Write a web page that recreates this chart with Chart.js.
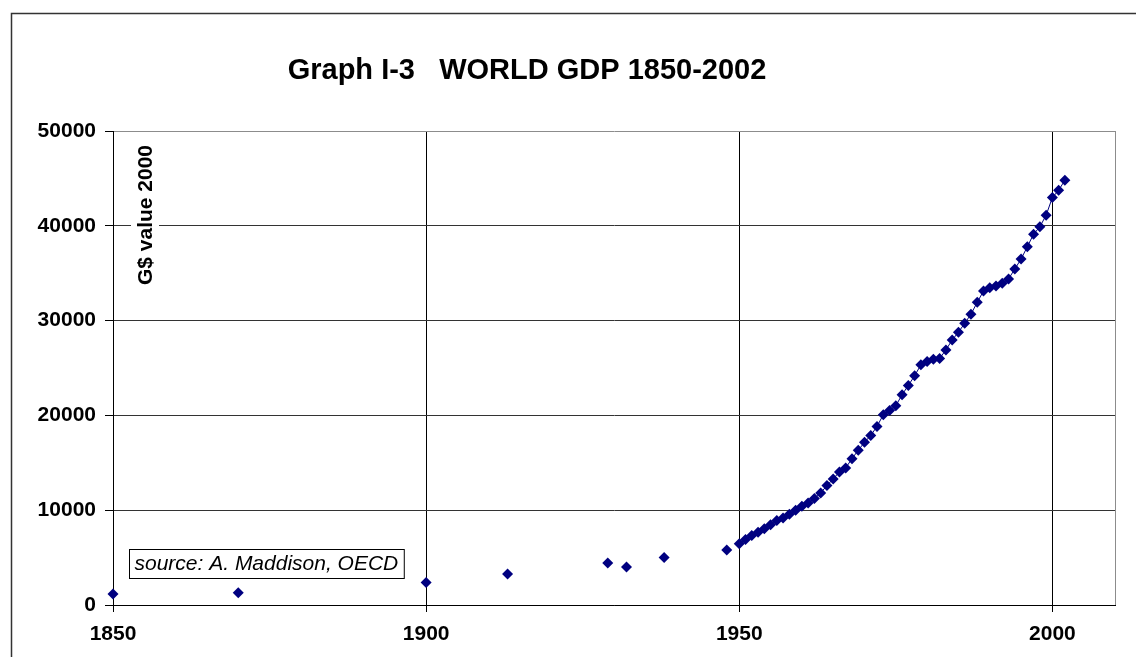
<!DOCTYPE html>
<html>
<head>
<meta charset="utf-8">
<script src="https://cdn.jsdelivr.net/npm/chart.js@4/dist/chart.umd.min.js"></script>
<style>
  html, body { margin: 0; padding: 0; background: #fff; }
  #wrap { width: 1136px; height: 657px; }
</style>
</head>
<body>
<div id="wrap"><canvas id="gdpChart" width="1136" height="657"></canvas></div>
<script>
// world GDP, G$ (value 2000)
const earlyYears = [1850, 1870, 1900, 1913, 1929, 1932, 1938, 1948];
const earlyGdp = [1150, 1300, 2380, 3280, 4440, 4020, 5000, 5790];

const years = [
  1950, 1951, 1952, 1953, 1954, 1955, 1956, 1957, 1958, 1959,
  1960, 1961, 1962, 1963, 1964, 1965, 1966, 1967, 1968, 1969,
  1970, 1971, 1972, 1973, 1974, 1975, 1976, 1977, 1978, 1979,
  1980, 1981, 1982, 1983, 1984, 1985, 1986, 1987, 1988, 1989,
  1990, 1991, 1992, 1993, 1994, 1995, 1996, 1997, 1998, 1999,
  2000, 2001, 2002
];
const gdp = [
  6450, 6910, 7330, 7680, 8040, 8460, 8910, 9190, 9580, 10000,
  10420, 10770, 11230, 11820, 12600, 13300, 14040, 14460, 15440, 16320,
  17160, 17890, 18840, 20070, 20530, 21020, 22180, 23160, 24180, 25330,
  25680, 25930, 26000, 26910, 27960, 28770, 29720, 30670, 31930, 33120,
  33470, 33650, 33930, 34390, 35440, 36490, 37790, 39120, 39890, 41120,
  42980, 43750, 44810
];

const xTicks = [1850, 1900, 1950, 2000];
const yTicks = [0, 10000, 20000, 30000, 40000, 50000];

const title = "Graph I-3   WORLD GDP 1850-2002";
const yLabel = "G$ value 2000";
const source = "source: A. Maddison, OECD";

const navy = "#000080";
const font = "'Liberation Sans', Arial, sans-serif";

// frame, title, axis label and source box (Excel-style extras)
const extras = {
  id: "extras",
  beforeDraw(chart) {
    const ctx = chart.ctx;
    ctx.save();
    ctx.fillStyle = "#fff";
    ctx.fillRect(0, 0, chart.width, chart.height);
    ctx.strokeStyle = "#333";
    ctx.lineWidth = 1.5;
    ctx.strokeRect(11.5, 13.5, chart.width + 20, chart.height + 20);
    ctx.restore();
  },
  afterDraw(chart) {
    const ctx = chart.ctx;
    ctx.save();
    ctx.fillStyle = "#000";
    ctx.font = "bold 29px " + font;
    ctx.textAlign = "center";
    ctx.textBaseline = "alphabetic";
    ctx.fillText(title, 527, 79);

    // rotated axis label sitting inside the plot, on a white patch
    ctx.font = "bold 21px " + font;
    const w = ctx.measureText(yLabel).width;
    const cx = 145, cy = 215;
    ctx.fillStyle = "#fff";
    ctx.fillRect(cx - 14, cy - w / 2 - 6, 28, w + 12);
    ctx.translate(cx, cy);
    ctx.rotate(-Math.PI / 2);
    ctx.fillStyle = "#000";
    ctx.textBaseline = "middle";
    ctx.fillText(yLabel, 0, 1);
    ctx.restore();

    ctx.save();
    ctx.font = "italic 21px " + font;
    const sw = ctx.measureText(source).width;
    const bx = 129.5, by = 549.5;
    ctx.fillStyle = "#fff";
    ctx.fillRect(bx, by, sw + 11, 29);
    ctx.strokeStyle = "#000";
    ctx.lineWidth = 1;
    ctx.strokeRect(bx, by, sw + 11, 29);
    ctx.fillStyle = "#000";
    ctx.textBaseline = "middle";
    ctx.fillText(source, bx + 5, by + 15);
    ctx.restore();
  }
};

new Chart(document.getElementById("gdpChart"), {
  type: "scatter",
  data: {
    datasets: [
      {
        label: "early",
        data: earlyYears.map((y, i) => ({ x: y, y: earlyGdp[i] })),
        showLine: false,
        clip: false,
        pointStyle: "rectRot",
        pointRadius: 5.5,
        backgroundColor: navy,
        borderColor: navy,
        borderWidth: 0
      },
      {
        label: "yearly",
        data: years.map((y, i) => ({ x: y, y: gdp[i] })),
        showLine: true,
        clip: false,
        borderColor: navy,
        borderWidth: 1,
        pointStyle: "rectRot",
        pointRadius: 5.5,
        pointBackgroundColor: navy,
        pointBorderColor: navy,
        pointBorderWidth: 0
      }
    ]
  },
  options: {
    responsive: false,
    animation: false,
    layout: { padding: { left: 0, right: 21, top: 131, bottom: 0 } },
    plugins: {
      legend: { display: false },
      tooltip: { enabled: false },
      title: { display: false }
    },
    scales: {
      x: {
        type: "linear",
        min: 1850,
        max: 2010,
        afterBuildTicks: (s) => {
          s.ticks = xTicks.concat([2010]).map(v => ({ value: v }));
        },
        afterFit: (s) => { s.height = 52; },
        ticks: {
          callback: (v) => (xTicks.includes(v) ? String(v) : ""),
          color: "#000",
          font: { family: font, size: 21, weight: "bold" },
          padding: 10,
          maxRotation: 0
        },
        grid: {
          color: (c) => (c.tick && c.tick.value === 2010 ? "#8c8c8c" : "#000"),
          tickColor: (c) => (c.tick && c.tick.value === 2010 ? "rgba(0,0,0,0)" : "#000"),
          tickLength: 7,
          lineWidth: 1
        },
        border: { color: "#000", width: 1 }
      },
      y: {
        min: 0,
        max: 50000,
        afterBuildTicks: (s) => {
          s.ticks = yTicks.map(v => ({ value: v }));
        },
        afterFit: (s) => { s.width = 113; },
        ticks: {
          callback: (v) => String(v),
          color: "#000",
          font: { family: font, size: 21, weight: "bold" },
          padding: 9
        },
        grid: {
          color: (c) => (c.tick && c.tick.value === 50000 ? "#8c8c8c" : "#333"),
          tickColor: "#000",
          tickLength: 8,
          lineWidth: 1
        },
        border: { color: "#000", width: 1 }
      }
    }
  },
  plugins: [extras]
});
</script>
</body>
</html>
